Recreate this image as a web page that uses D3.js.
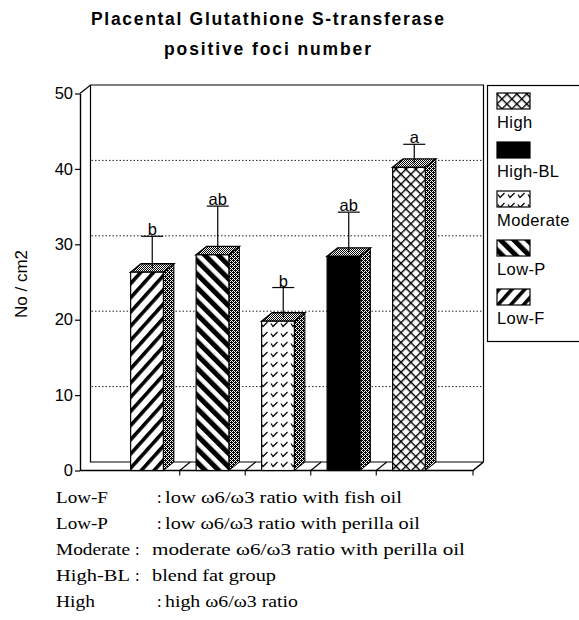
<!DOCTYPE html>
<html>
<head>
<meta charset="utf-8">
<script src="https://cdn.jsdelivr.net/npm/d3@7"></script>
<style>
  body { margin: 0; background: #fff; }
  svg { display: block; }
</style>
</head>
<body>
<div id="chart"></div>
<script>
// data
const groups = ["Low-F", "Low-P", "Moderate", "High-BL", "High"];
const means = [26.3, 28.6, 19.8, 28.4, 40.2];
const errors = [4.2, 5.9, 3.9, 5.3, 2.5];
const letters = ["b", "ab", "b", "ab", "a"];
const yTicks = [0, 10, 20, 30, 40, 50];
const gridValues = [10, 20, 30, 40];
const legendOrder = ["High", "High-BL", "Moderate", "Low-P", "Low-F"];
const titleLines = ["Placental Glutathione S-transferase", "positive foci number"];
const yLabel = "No / cm2";
const noteLabels = ["Low-F", "Low-P", "Moderate", "High-BL", "High"];
const noteTexts = [
  "low  \u03c96/\u03c93 ratio with fish oil",
  "low  \u03c96/\u03c93 ratio with perilla oil",
  "moderate  \u03c96/\u03c93 ratio with perilla oil",
  "blend fat group",
  "high  \u03c96/\u03c93 ratio"
];

const W = 579, H = 620;
const DX = 10.5, DY = -8.5;   // 3d depth offset
const x0 = 80, x1 = 473;

const svg = d3.select("#chart").append("svg")
  .attr("width", W).attr("height", H);

const y = d3.scaleLinear().domain([0, 50]).range([470.5, 93.5]);
const x = d3.scaleBand().domain(groups).range([x0 + 1.5, x1 + 1.5])
  .paddingInner(0.5).paddingOuter(0.75);

// ---- patterns
const defs = svg.append("defs");

function stripes(id, angle, black, period) {
  const p = defs.append("pattern").attr("id", id)
    .attr("patternUnits", "userSpaceOnUse")
    .attr("width", period).attr("height", period)
    .attr("patternTransform", `rotate(${angle})`);
  p.append("rect").attr("width", period).attr("height", period).attr("fill", "#fff");
  p.append("rect").attr("width", black).attr("height", period).attr("fill", "#000");
}
stripes("pat-lowf", 42, 3.6, 9.5);
stripes("pat-lowp", -45, 5, 9.5);

const hatch = defs.append("pattern").attr("id", "pat-high")
  .attr("patternUnits", "userSpaceOnUse")
  .attr("width", 7).attr("height", 7)
  .attr("patternTransform", "rotate(45)");
hatch.append("rect").attr("width", 7).attr("height", 7).attr("fill", "#fff");
hatch.append("rect").attr("width", 1.4).attr("height", 7).attr("fill", "#000");
hatch.append("rect").attr("width", 7).attr("height", 1.4).attr("fill", "#000");

const mod = defs.append("pattern").attr("id", "pat-mod")
  .attr("patternUnits", "userSpaceOnUse")
  .attr("width", 10).attr("height", 10);
mod.append("rect").attr("width", 10).attr("height", 10).attr("fill", "#fff");
mod.append("path").attr("d", "M1,3.5 L3,6.5 L7.5,2")
  .attr("fill", "none").attr("stroke", "#000").attr("stroke-width", 1.2);

defs.append("pattern").attr("id", "pat-bl")
  .attr("patternUnits", "userSpaceOnUse").attr("width", 4).attr("height", 4)
  .append("rect").attr("width", 4).attr("height", 4).attr("fill", "#000");

function stipple(id, dots) {
  const p = defs.append("pattern").attr("id", id)
    .attr("patternUnits", "userSpaceOnUse").attr("width", 4).attr("height", 4);
  p.append("rect").attr("width", 4).attr("height", 4).attr("fill", "#fff");
  dots.forEach(d => p.append("rect").attr("x", d[0]).attr("y", d[1])
    .attr("width", 1).attr("height", 1).attr("fill", "#000"));
}
const checker = [[0,0],[2,0],[1,1],[3,1],[0,2],[2,2],[1,3],[3,3]];
stipple("pat-side", checker.concat([[1,0],[3,2]]));
stipple("pat-top", checker);

const fillOf = {
  "Low-F": "url(#pat-lowf)",
  "Low-P": "url(#pat-lowp)",
  "Moderate": "url(#pat-mod)",
  "High-BL": "url(#pat-bl)",
  "High": "url(#pat-high)"
};

const sans = "Liberation Sans, Arial, Helvetica, sans-serif";

// ---- title
svg.selectAll("text.title")
  .data(titleLines)
  .enter().append("text")
  .attr("class", "title")
  .attr("x", 267.5)
  .attr("y", (d, i) => 25 + i * 30)
  .attr("text-anchor", "middle")
  .attr("font-family", sans)
  .attr("font-weight", "bold")
  .attr("font-size", 17.5)
  .attr("textLength", (d, i) => i === 0 ? 353 : 207)
  .attr("lengthAdjust", "spacing")
  .text(d => d);

// ---- walls and floor
const yTop = y(50), yBot = y(0);
const frame = svg.append("g").attr("fill", "none").attr("stroke", "#000").attr("stroke-width", 1.2);
frame.append("path")
  .attr("d", `M${x0},${yTop} L${x0 + DX},${yTop + DY} L${x1 + DX},${yTop + DY} L${x1 + DX},${yBot + DY}`);
frame.append("path")
  .attr("d", `M${x0 + DX},${yTop + DY} L${x0 + DX},${yBot + DY} L${x1 + DX},${yBot + DY}`);
frame.append("path")
  .attr("d", `M${x0},${yBot} L${x1},${yBot} L${x1 + DX},${yBot + DY}`)
  .attr("stroke-width", 1.6);

svg.append("g").selectAll("line")
  .data(gridValues)
  .enter().append("line")
  .attr("x1", x0 + DX + 1).attr("x2", x1 + DX)
  .attr("y1", d => y(d) + DY).attr("y2", d => y(d) + DY)
  .attr("stroke", "#222").attr("stroke-width", 1)
  .attr("stroke-dasharray", "1.5,2");

// category boundaries on the floor + ticks
const step = x.step();
const bounds = groups.slice(1).map(g => x(g) - (step - x.bandwidth()) / 2);
bounds.push(x1);
const fl = svg.append("g").attr("stroke", "#000").attr("stroke-width", 1.1);
fl.selectAll("line.floor")
  .data(bounds.slice(0, -1))
  .enter().append("line").attr("class", "floor")
  .attr("x1", d => d).attr("y1", yBot)
  .attr("x2", d => d + DX).attr("y2", yBot + DY);
fl.selectAll("line.tick")
  .data(bounds)
  .enter().append("line").attr("class", "tick")
  .attr("x1", d => d).attr("x2", d => d)
  .attr("y1", yBot).attr("y2", yBot + 5);

// ---- y axis
const yAxis = svg.append("g")
  .attr("transform", `translate(${x0},0)`)
  .call(d3.axisLeft(y).tickValues(yTicks).tickSize(5).tickSizeOuter(0).tickPadding(2));
yAxis.select(".domain").attr("stroke", "#000").attr("stroke-width", 1.4);
yAxis.selectAll(".tick line").attr("stroke", "#000").attr("stroke-width", 1.2);
yAxis.selectAll(".tick text")
  .attr("font-family", sans)
  .attr("font-size", 16.5).attr("fill", "#000");

svg.append("text")
  .attr("transform", `translate(27,${(yTop + yBot) / 2 + 2}) rotate(-90)`)
  .attr("text-anchor", "middle")
  .attr("font-family", sans)
  .attr("font-size", 17)
  .text(yLabel);

// ---- bars
const bars = svg.append("g").selectAll("g.bar")
  .data(groups.map((g, i) => ({ g, v: means[i], e: errors[i], l: letters[i] })))
  .enter().append("g").attr("class", "bar");

bars.append("path") // side
  .attr("d", d => {
    const xr = x(d.g) + x.bandwidth(), yt = y(d.v);
    return `M${xr},${yt} L${xr + DX},${yt + DY} L${xr + DX},${yBot + DY} L${xr},${yBot} Z`;
  })
  .attr("fill", "url(#pat-side)").attr("stroke", "#000").attr("stroke-width", 1);

bars.append("path") // top
  .attr("d", d => {
    const xl = x(d.g), xr = xl + x.bandwidth(), yt = y(d.v);
    return `M${xl},${yt} L${xl + DX},${yt + DY} L${xr + DX},${yt + DY} L${xr},${yt} Z`;
  })
  .attr("fill", "url(#pat-top)").attr("stroke", "#000").attr("stroke-width", 1.4);

bars.append("rect") // front
  .attr("x", d => x(d.g))
  .attr("y", d => y(d.v))
  .attr("width", x.bandwidth())
  .attr("height", d => yBot - y(d.v))
  .attr("fill", d => fillOf[d.g])
  .attr("stroke", "#000").attr("stroke-width", 1.2);

// error bars
const ex = d => x(d.g) + x.bandwidth() / 2 + DX / 2;
bars.append("line")
  .attr("x1", ex).attr("x2", ex)
  .attr("y1", d => y(d.v) + DY / 2)
  .attr("y2", d => y(d.v + d.e) + DY / 2)
  .attr("stroke", "#000").attr("stroke-width", 1.2);
bars.append("line")
  .attr("x1", d => ex(d) - 11).attr("x2", d => ex(d) + 11)
  .attr("y1", d => y(d.v + d.e) + DY / 2)
  .attr("y2", d => y(d.v + d.e) + DY / 2)
  .attr("stroke", "#000").attr("stroke-width", 1.2);
bars.append("text")
  .attr("x", ex)
  .attr("y", d => y(d.v + d.e) + DY / 2 - 1)
  .attr("text-anchor", "middle")
  .attr("font-family", sans)
  .attr("font-size", 16.5)
  .text(d => d.l);

// ---- legend
const lg = svg.append("g");
lg.append("rect")
  .attr("x", 487.5).attr("y", 85.5).attr("width", 100).attr("height", 256)
  .attr("fill", "#fff").attr("stroke", "#000").attr("stroke-width", 1.2);
const li = lg.selectAll("g.item")
  .data(legendOrder)
  .enter().append("g").attr("class", "item")
  .attr("transform", (d, i) => `translate(497,${93 + i * 49})`);
li.append("rect")
  .attr("width", 33).attr("height", 16)
  .attr("fill", d => fillOf[d]).attr("stroke", "#000").attr("stroke-width", 1.2);
li.append("text")
  .attr("y", 35)
  .attr("font-family", sans)
  .attr("font-size", 16.5)
  .attr("letter-spacing", 0.4)
  .text(d => d);

// ---- footnotes
const labelW = [52, 52, 74, 74, 39];
const colonX = [157, 157, 135, 135, 157];
const textX = [165, 165, 152, 152, 165];
const textW = [237, 255, 313, 124, 133];
const notes = svg.append("g")
  .attr("font-family", "Liberation Serif, Times New Roman, serif")
  .attr("font-size", 16.5);
noteLabels.forEach((lab, i) => {
  const by = 503 + i * 26;
  notes.append("text").attr("x", 56).attr("y", by)
    .attr("textLength", labelW[i]).attr("lengthAdjust", "spacingAndGlyphs").text(lab);
  notes.append("text").attr("x", colonX[i]).attr("y", by).text(":");
  notes.append("text").attr("x", textX[i]).attr("y", by)
    .attr("textLength", textW[i]).attr("lengthAdjust", "spacingAndGlyphs").text(noteTexts[i]);
});
</script>
</body>
</html>
